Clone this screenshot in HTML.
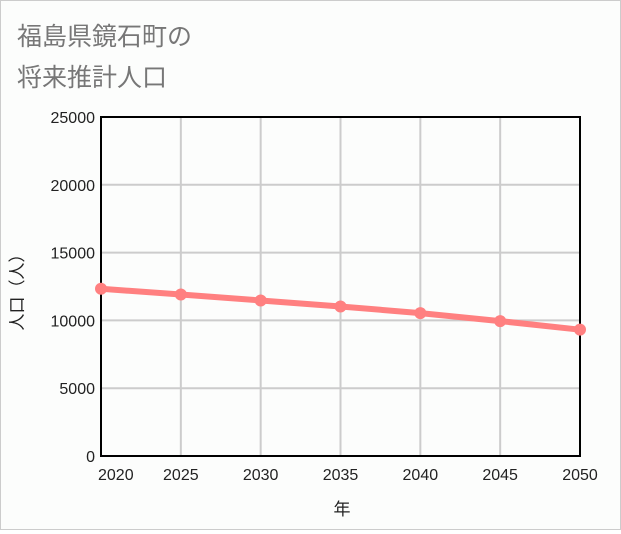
<!DOCTYPE html>
<html><head><meta charset="utf-8"><style>
body{margin:0;background:#fff;}
#wrap{width:619px;height:528px;border:1px solid #ccc;background:#fcfdfc;position:relative;}
text{font-family:"Liberation Sans","Noto Sans CJK JP",sans-serif;}
</style></head><body>
<div id="wrap">
<svg id="chart" width="619" height="528">
<text x="16" y="44" font-size="25" fill="#777">福島県鏡石町の</text>
<text x="16" y="85" font-size="25" fill="#777">将来推計人口</text>
<g id="grid"></g><g id="axes"></g><g id="series"></g>
<text x="341" y="514" font-size="17" text-anchor="middle" fill="#222">年</text>
<text transform="translate(22,287) rotate(-90)" font-size="17" text-anchor="middle" fill="#222">人口（人）</text>
</svg></div>
<script>
const years=[2020,2025,2030,2035,2040,2045,2050];
const population=[12331,11912,11470,11029,10537,9949,9316];
const yTicks=[0,5000,10000,15000,20000,25000];
const X0=100,X1=579,Y0=455,Y1=116;
const xs=v=>X0+(v-2020)/30*(X1-X0);
const ys=v=>Y0-v/25000*(Y0-Y1);
const NS='http://www.w3.org/2000/svg';
function mk(t,a,p){const e=document.createElementNS(NS,t);for(const k in a)e.setAttribute(k,a[k]);p.appendChild(e);return e;}
const g=document.getElementById('grid'),ax=document.getElementById('axes'),s=document.getElementById('series');
years.forEach((y,i)=>{const l=mk('line',{x1:xs(y),x2:xs(y),y1:Y1,y2:Y0,stroke:'#ccc','stroke-width':2},g);


const t=mk('text',{x:i===0?xs(y)-3:xs(y),y:479,'font-size':16,'text-anchor':i===0?'start':'middle',fill:'#222'},ax);t.textContent=y;

});
yTicks.forEach(v=>{const l=mk('line',{x1:X0,x2:X1,y1:ys(v),y2:ys(v),stroke:'#ccc','stroke-width':2},g);


const t=mk('text',{x:94,y:ys(v)+6,'font-size':16,'text-anchor':'end',fill:'#222'},ax);t.textContent=v;

});
const r=mk('rect',{x:X0,y:Y1,width:X1-X0,height:Y0-Y1,fill:'none',stroke:'#000','stroke-width':2},ax);


const pl=mk('polyline',{points:years.map((y,i)=>xs(y)+','+ys(population[i])).join(' '),fill:'none',stroke:'#ff8080','stroke-width':6},s);


years.forEach((y,i)=>{const c=mk('circle',{cx:xs(y),cy:ys(population[i]),r:6,fill:'#ff8080'},s);

});
</script></body></html>
